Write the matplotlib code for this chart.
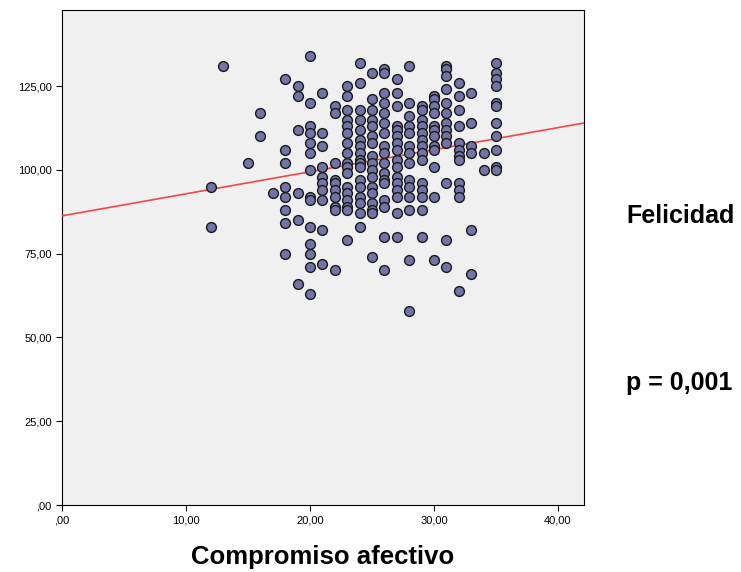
import numpy as np
import matplotlib.pyplot as plt

plt.rcParams['font.family'] = ['Liberation Sans', 'DejaVu Sans']

# compromiso afectivo (x) -> felicidad (y), read column by column
cols = {
    12: [95, 83],
    13: [131],
    15: [102],
    16: [117, 110],
    17: [93],
    18: [127, 106, 102, 95, 92, 88, 84, 75],
    19: [125, 122, 112, 93, 85, 66],
    20: [134, 120, 113, 111, 108, 105, 100, 92, 91, 83, 78, 75, 71, 63],
    21: [123, 111, 107, 101, 98, 96, 94, 91, 82, 72],
    22: [119, 117, 102, 97, 96, 94, 92, 89, 88, 70],
    23: [125, 122, 118, 115, 113, 111, 108, 105, 102, 101, 99, 95, 93, 91, 89, 88, 79],
    24: [132, 126, 118, 115, 112, 109, 107, 105, 103, 102, 101, 97, 95, 92, 90, 87, 83],
    25: [129, 121, 118, 115, 113, 110, 108, 104, 102, 100, 98, 95, 93, 90, 88, 87, 74],
    26: [130, 129, 123, 120, 117, 114, 111, 107, 105, 102, 99, 97, 96, 91, 89, 80, 70],
    27: [127, 123, 119, 113, 112, 110, 108, 106, 103, 101, 98, 96, 94, 92, 87, 80],
    28: [131, 120, 116, 113, 111, 107, 105, 102, 97, 95, 92, 88, 73, 58],
    29: [119, 118, 115, 113, 111, 109, 107, 105, 103, 96, 94, 92, 88, 80],
    30: [122, 121, 119, 117, 113, 112, 110, 107, 106, 101, 92, 73],
    31: [131, 130, 128, 124, 120, 117, 114, 112, 110, 108, 96, 79, 71],
    32: [126, 122, 118, 113, 108, 106, 104, 103, 96, 94, 92, 64],
    33: [123, 114, 107, 105, 82, 69],
    34: [105, 100],
    35: [132, 129, 127, 125, 120, 119, 114, 110, 106, 101, 100],
}
compromiso = np.array([k for k, v in cols.items() for _ in v], dtype=float)
felicidad = np.array([y for v in cols.values() for y in v], dtype=float)

xticks = [0, 10, 20, 30, 40]
yticks = [0, 25, 50, 75, 100, 125]

def coma(v):
    s = f"{v:.2f}".replace(".", ",")
    return s[1:] if s.startswith("0") else s

fig = plt.figure(figsize=(7.41, 5.72), dpi=100)
ax = fig.add_axes([0.0837, 0.1171, 0.7044, 0.8654])
ax.set_facecolor('#f0f0f0')

# linea de ajuste (minimos cuadrados)
b, a = np.polyfit(compromiso, felicidad, 1)
xl = np.array([0, 42.1])
ax.plot(xl, a + b * xl, color='#f04848', lw=1.2, zorder=3)

ax.scatter(compromiso, felicidad, s=50, c='#7273a6', edgecolors='#1a1a1a',
           linewidths=1.0, zorder=4)

ax.set_xlim(0, 42.1)
ax.set_ylim(0, 147.7)
ax.set_xticks(xticks)
ax.set_yticks(yticks)
ax.set_xticklabels([coma(v) for v in xticks], fontsize=8)
ax.set_yticklabels([coma(v) for v in yticks], fontsize=8)
ax.tick_params(length=4, width=0.8)
for sp in ax.spines.values():
    sp.set_linewidth(0.8)

ax.set_xlabel('Compromiso afectivo', fontsize=18.5, fontweight='bold', labelpad=14)
fig.text(0.845, 0.622, 'Felicidad', fontsize=18, fontweight='bold', va='center')
fig.text(0.845, 0.33, 'p = 0,001', fontsize=18, fontweight='bold', va='center')

fig.savefig('out.png', dpi=100)
